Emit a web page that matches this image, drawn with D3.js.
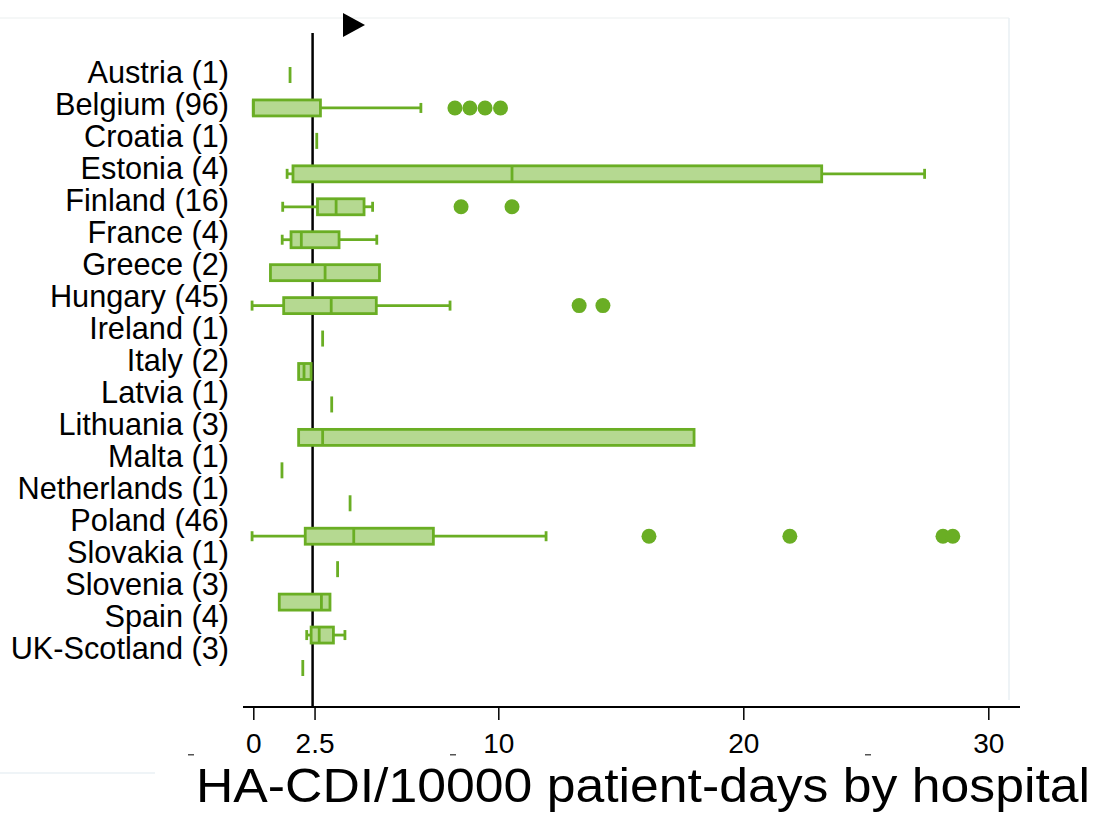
<!DOCTYPE html>
<html lang="en">
  <head>
    <meta charset="UTF-8" />
    <title>HA-CDI by hospital</title>
    <script src="https://cdn.jsdelivr.net/npm/d3@7"></script>
    <style>
      body {
        margin: 0;
        padding: 0;
        background: #fff;
      }
      text {
        font-family: 'Liberation Sans', Arial, sans-serif;
        fill: #000;
      }
    </style>
  </head>

  <body>
    <svg width="1099" height="814"></svg>

    <script>
      // countries and number of hospitals
      var countries = ['Austria', 'Belgium', 'Croatia', 'Estonia', 'Finland', 'France', 'Greece', 'Hungary', 'Ireland', 'Italy',
        'Latvia', 'Lithuania', 'Malta', 'Netherlands', 'Poland', 'Slovakia', 'Slovenia', 'Spain', 'UK-Scotland']
      var counts = [1, 96, 1, 4, 16, 4, 2, 45, 1, 2, 1, 3, 1, 1, 46, 1, 3, 4, 3]

      // box plot stats (null = no whisker)
      var q1 = [1.5, 0, 2.59, 1.62, 2.62, 1.54, 0.7, 1.24, 2.83, 1.85, 3.2, 1.85, 1.17, 3.95, 2.12, 3.44, 1.06, 2.36, 2.02]
      var median = [1.5, 0, 2.59, 10.56, 3.38, 1.96, 2.93, 3.18, 2.83, 2.07, 3.2, 2.83, 1.17, 3.95, 4.1, 3.44, 2.78, 2.69, 2.02]
      var q3 = [1.5, 2.74, 2.59, 23.2, 4.52, 3.5, 5.15, 5.02, 2.83, 2.36, 3.2, 17.99, 1.17, 3.95, 7.35, 3.44, 3.13, 3.27, 2.02]
      var whiskLo = [null, null, null, 1.38, 1.2, 1.18, null, -0.05, null, null, null, null, null, null, -0.05, null, null, 2.18, null]
      var whiskHi = [null, 6.84, null, 27.4, 4.87, 5.04, null, 8.03, null, null, null, null, null, null, 11.95, null, null, 3.74, null]
      var outliers = [[], [8.23, 8.84, 9.46, 10.09], [], [], [8.48, 10.56], [], [], [13.3, 14.27], [], [],
        [], [], [], [], [16.15, 21.9, 28.15, 28.55], [], [], [], []]

      var xTicks = [0, 2.5, 10, 20, 30]
      var refValue = 2.42
      var axisTitle = 'HA-CDI/10000 patient-days by hospital'

      var fillColor = '#b5d991'
      var strokeColor = '#6aae24'

      var svg = d3.select('svg')
      var boxH = 16
      var capH = 10
      var sw = 2.8

      var xScale = d3.scaleLinear().domain([0, 30]).range([253.3, 988.3])
      // marks and labels sit on slightly different rows in the original
      var yBox = d3.scalePoint().domain(countries).range([75, 668])
      var yLabel = d3.scalePoint().domain(countries).range([72, 648])

      // faint panel borders
      svg.append('line').attr('x1', 0).attr('x2', 1009).attr('y1', 18).attr('y2', 18)
        .attr('stroke', '#f2f4f5').attr('stroke-width', 1.5)
      svg.append('line').attr('x1', 1009).attr('x2', 1009).attr('y1', 18).attr('y2', 700)
        .attr('stroke', '#e8eff3').attr('stroke-width', 1.5)
      svg.append('line').attr('x1', 0).attr('x2', 155).attr('y1', 773).attr('y2', 773)
        .attr('stroke', '#eaf1f5').attr('stroke-width', 1.5)

      // reference line
      svg.append('line')
        .attr('x1', xScale(refValue)).attr('x2', xScale(refValue))
        .attr('y1', 33).attr('y2', 707)
        .attr('stroke', '#000').attr('stroke-width', 2.5)

      // marker triangle
      svg.append('path').attr('d', 'M343,13 L343,37 L365,25 Z').attr('fill', '#000')

      // country labels
      svg.append('g').selectAll('text').data(countries).enter().append('text')
        .attr('x', 229)
        .attr('y', (d) => yLabel(d))
        .attr('dy', '0.35em')
        .attr('text-anchor', 'end')
        .attr('font-size', 30.7)
        .text((d, i) => `${d} (${counts[i]})`)

      var rows = svg.append('g').selectAll('g').data(countries).enter().append('g')
        .attr('transform', (d) => `translate(0, ${yBox(d)})`)

      rows.each(function (d, i) {
        var g = d3.select(this)
        if (q3[i] === q1[i]) {
          // single hospital: one tick
          g.append('line')
            .attr('x1', xScale(median[i])).attr('x2', xScale(median[i]))
            .attr('y1', -boxH / 2).attr('y2', boxH / 2)
            .attr('stroke', strokeColor).attr('stroke-width', sw)
          return
        }
        if (whiskLo[i] !== null) {
          g.append('line').attr('x1', xScale(whiskLo[i])).attr('x2', xScale(q1[i]))
            .attr('y1', 0).attr('y2', 0).attr('stroke', strokeColor).attr('stroke-width', sw)
          g.append('line').attr('x1', xScale(whiskLo[i])).attr('x2', xScale(whiskLo[i]))
            .attr('y1', -capH / 2).attr('y2', capH / 2).attr('stroke', strokeColor).attr('stroke-width', sw)
        }
        if (whiskHi[i] !== null) {
          g.append('line').attr('x1', xScale(q3[i])).attr('x2', xScale(whiskHi[i]))
            .attr('y1', 0).attr('y2', 0).attr('stroke', strokeColor).attr('stroke-width', sw)
          g.append('line').attr('x1', xScale(whiskHi[i])).attr('x2', xScale(whiskHi[i]))
            .attr('y1', -capH / 2).attr('y2', capH / 2).attr('stroke', strokeColor).attr('stroke-width', sw)
        }
        g.append('rect')
          .attr('x', xScale(q1[i]))
          .attr('y', -boxH / 2)
          .attr('width', xScale(q3[i]) - xScale(q1[i]))
          .attr('height', boxH)
          .attr('fill', fillColor)
          .attr('stroke', strokeColor)
          .attr('stroke-width', sw)
        g.append('line')
          .attr('x1', xScale(median[i])).attr('x2', xScale(median[i]))
          .attr('y1', -boxH / 2).attr('y2', boxH / 2)
          .attr('stroke', strokeColor).attr('stroke-width', sw)
        g.selectAll('circle').data(outliers[i]).enter().append('circle')
          .attr('cx', (v) => xScale(v))
          .attr('cy', 0)
          .attr('r', 7.5)
          .attr('fill', strokeColor)
      })

      // x axis
      var xAxis = d3.axisBottom(xScale).tickValues(xTicks).tickSize(13).tickPadding(13.5)
        .tickFormat((d) => (d === 2.5 ? '2.5' : d3.format('d')(d)))
      var ax = svg.append('g').attr('transform', 'translate(0, 707)').call(xAxis)
      ax.attr('font-size', 28).attr('font-family', "'Liberation Sans', Arial, sans-serif")
      ax.select('.domain').remove()
      ax.append('line').attr('x1', 243).attr('x2', 1020).attr('y1', 0).attr('y2', 0)
        .attr('stroke', '#000').attr('stroke-width', 2)
      ax.selectAll('.tick line').attr('stroke', '#000').attr('stroke-width', 1.5)
      ax.selectAll('.tick text').attr('fill', '#000')

      // small clipped label stubs under the axis
      svg.append('g').selectAll('rect').data([191, 453, 868]).enter().append('rect')
        .attr('x', (d) => d - 3).attr('y', 754).attr('width', 6).attr('height', 1.5).attr('fill', '#555')

      // axis title
      svg.append('text')
        .attr('x', 196)
        .attr('y', 802)
        .attr('font-size', 48)
        .attr('textLength', 894)
        .attr('lengthAdjust', 'spacingAndGlyphs')
        .text(axisTitle)
    </script>
  </body>
</html>
